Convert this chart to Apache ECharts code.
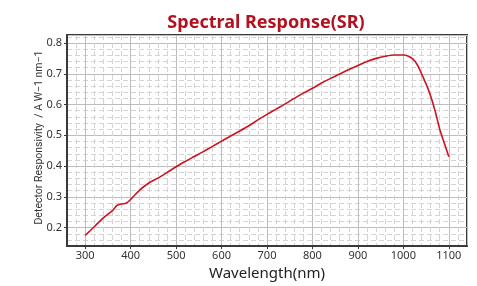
<!DOCTYPE html>
<html>
<head>
<meta charset="utf-8">
<script src="https://cdn.jsdelivr.net/npm/echarts@6/dist/echarts.min.js"></script>
<style>
    html, body { margin: 0; padding: 0; background: #fff; }
    #chart { width: 477px; height: 286px; }
</style>
</head>
<body>
<div id="chart"></div>
<script>
// wavelength (nm)
var wavelength = [300, 320, 340, 360, 370, 380, 390, 400, 420, 440, 460, 480, 500, 520, 540, 560, 580,
    600, 620, 640, 660, 680, 700, 720, 740, 760, 780, 800, 820, 840, 860, 880, 900, 920, 940, 960, 980,
    1000, 1010, 1020, 1030, 1040, 1050, 1060, 1070, 1080, 1090, 1100];
// responsivity (A/W)
var responsivity = [0.175, 0.203, 0.232, 0.255, 0.272, 0.277, 0.279, 0.292, 0.322, 0.345, 0.361, 0.379, 0.398, 0.415, 0.431, 0.447, 0.464,
    0.481, 0.498, 0.514, 0.531, 0.550, 0.568, 0.585, 0.602, 0.620, 0.637, 0.653, 0.670, 0.685, 0.699, 0.714, 0.727, 0.740, 0.750, 0.757, 0.761,
    0.761, 0.758, 0.749, 0.731, 0.700, 0.667, 0.628, 0.578, 0.520, 0.475, 0.430];

var xMin = 260, xMax = 1140;
var yMin = 0.14, yMax = 0.826;

var seriesData = [];
for (var i = 0; i < wavelength.length; i++) {
    seriesData.push([wavelength[i], responsivity[i]]);
}

var myChart = echarts.init(document.getElementById('chart'));
var textFont = 'Noto Sans';
var option = {
    animation: false,
    title: {
        text: 'Spectral Response(SR)',
        left: 261,
        top: 9,
        textAlign: 'center',
        textStyle: {
            color: '#b3111f',
            fontFamily: textFont,
            fontWeight: 'bold',
            fontSize: 18
        }
    },
    grid: {
        left: 67,
        right: 10,
        top: 35,
        bottom: 33,
        show: true,
        borderColor: '#3a3a3a',
        borderWidth: 2
    },
    xAxis: [{
        // minor grid
        type: 'value',
        min: xMin,
        max: xMax,
        interval: 20,
        axisLine: {show: false},
        axisTick: {show: false},
        axisLabel: {show: false},
        splitLine: {
            show: true,
            lineStyle: {color: '#d4d4d4', type: [5, 3], width: 1}
        }
    }, {
        // major grid + labels
        type: 'value',
        min: xMin,
        max: xMax,
        minInterval: 100,
        maxInterval: 100,
        position: 'bottom',
        name: 'Wavelength(nm)',
        nameLocation: 'middle',
        nameGap: 14,
        nameTextStyle: {
            color: '#222',
            fontFamily: textFont,
            fontSize: 15,
            verticalAlign: 'top'
        },
        axisLine: {show: true, lineStyle: {color: '#3a3a3a', width: 2}},
        axisTick: {show: true, length: 3, lineStyle: {color: '#3a3a3a'}},
        axisLabel: {
            color: '#333',
            fontFamily: textFont,
            fontSize: 11,
            margin: 4,
            showMinLabel: false,
            showMaxLabel: false,
            formatter: function (v) { return String(v); }
        },
        splitLine: {
            show: true,
            lineStyle: {color: '#bdbdbd', width: 1}
        }
    }],
    yAxis: [{
        type: 'value',
        min: yMin,
        max: yMax,
        interval: 0.02,
        axisLine: {show: false},
        axisTick: {show: false},
        axisLabel: {show: false},
        splitLine: {
            show: true,
            lineStyle: {color: '#d4d4d4', type: [5, 3], width: 1}
        }
    }, {
        type: 'value',
        min: yMin,
        max: yMax,
        minInterval: 0.1,
        maxInterval: 0.1,
        position: 'left',
        name: 'Detector Responsivity  / A W\u22121 nm\u22121',
        nameLocation: 'middle',
        nameGap: 22,
        nameMoveOverlap: false,
        nameTextStyle: {
            color: '#333',
            fontFamily: 'Roboto',
            fontSize: 10.5,
            padding: [0, 0, 0, 6]
        },
        axisLine: {show: true, lineStyle: {color: '#3a3a3a', width: 2}},
        axisTick: {show: true, length: 3, lineStyle: {color: '#3a3a3a'}},
        axisLabel: {
            color: '#333',
            fontFamily: textFont,
            fontSize: 11,
            margin: 5,
            showMinLabel: false,
            showMaxLabel: false
        },
        splitLine: {
            show: true,
            lineStyle: {color: '#bdbdbd', width: 1}
        }
    }],
    series: [{
        name: 'SR',
        type: 'line',
        xAxisIndex: 1,
        yAxisIndex: 1,
        data: seriesData,
        smooth: 0.3,
        showSymbol: false,
        lineStyle: {color: '#cc1420', width: 1.6}
    }]
};
myChart.setOption(option);
</script>
</body>
</html>
